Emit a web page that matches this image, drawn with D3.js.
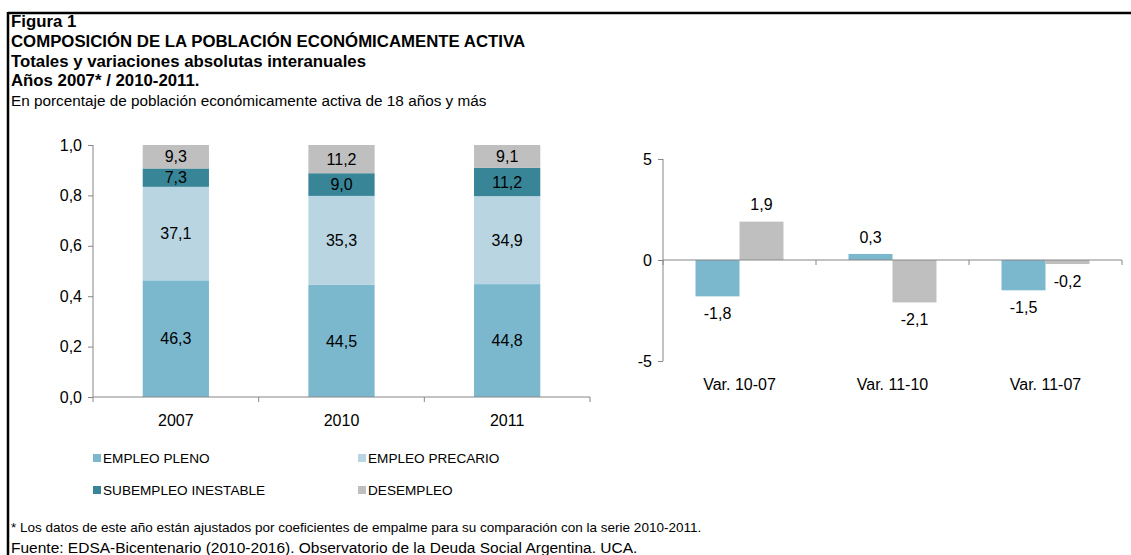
<!DOCTYPE html>
<html lang="es">
<head>
    <meta charset="UTF-8">
    <title>Figura 1 - Composición de la PEA</title>
    <script src="https://cdn.jsdelivr.net/npm/d3@7"></script>
    <style>
        body { margin: 0; background: #fff; }
        svg { display: block; font-family: "Liberation Sans", Arial, sans-serif; }
        .axis path, .axis line { stroke: #868686; }
        .axis text { font-size: 16px; fill: #000; }
    </style>
</head>
<body>
    <svg id="chart" width="1131" height="555"></svg>
    <script>
        // Datos del gráfico izquierdo (porcentajes por año)
        const years = ['2007', '2010', '2011'];
        const empleoPleno = [46.3, 44.5, 44.8];
        const empleoPrecario = [37.1, 35.3, 34.9];
        const subempleo = [7.3, 9.0, 11.2];
        const desempleo = [9.3, 11.2, 9.1];
        const leftTicks = [0, 0.2, 0.4, 0.6, 0.8, 1.0];

        // Datos del gráfico derecho (variaciones absolutas)
        const varCats = ['Var. 10-07', 'Var. 11-10', 'Var. 11-07'];
        const varPleno = [-1.8, 0.3, -1.5];
        const varDesempleo = [1.9, -2.1, -0.2];
        const rightTicks = [-5, 0, 5];

        const seriesNames = ['EMPLEO PLENO', 'EMPLEO PRECARIO', 'SUBEMPLEO INESTABLE', 'DESEMPLEO'];
        const COLORS = {
            'EMPLEO PLENO': '#7BB8CE',
            'EMPLEO PRECARIO': '#B8D5E1',
            'SUBEMPLEO INESTABLE': '#388597',
            'DESEMPLEO': '#BFBFBF'
        };

        // formato con coma decimal y guion como signo menos
        const es = d3.formatLocale({ decimal: ',', thousands: '.', grouping: [3], currency: ['$', ''], minus: '-' });
        const comma = es.format('.1f');
        const entero = es.format('d');

        const svg = d3.select('#chart');

        // Marco
        svg.append('line').attr('x1', 8).attr('x2', 1131).attr('y1', 13).attr('y2', 13)
            .attr('stroke', '#000').attr('stroke-width', 2.5);
        svg.append('line').attr('x1', 8).attr('x2', 8).attr('y1', 12).attr('y2', 555)
            .attr('stroke', '#000').attr('stroke-width', 2.5);

        // Títulos
        const titles = [
            { t: 'Figura 1', b: true },
            { t: 'COMPOSICIÓN DE LA POBLACIÓN ECONÓMICAMENTE ACTIVA', b: true },
            { t: 'Totales y variaciones absolutas interanuales', b: true },
            { t: 'Años 2007* / 2010-2011.', b: true },
            { t: 'En porcentaje de población económicamente activa de 18 años y más', b: false }
        ];
        titles.forEach((d, i) => {
            svg.append('text')
                .attr('x', 11)
                .attr('y', 27 + i * 19.8)
                .attr('font-size', d.b ? 16.8 : 15.3)
                .attr('font-weight', d.b ? 'bold' : 'normal')
                .text(d.t);
        });

        // ---------- Gráfico izquierdo: barras apiladas ----------
        const stackData = years.map((y, i) => ({
            year: y,
            'EMPLEO PLENO': empleoPleno[i] / 100,
            'EMPLEO PRECARIO': empleoPrecario[i] / 100,
            'SUBEMPLEO INESTABLE': subempleo[i] / 100,
            'DESEMPLEO': desempleo[i] / 100
        }));
        const stacked = d3.stack().keys(seriesNames)(stackData);

        const x1 = d3.scaleBand().domain(years).range([93, 590]).paddingInner(0.6).paddingOuter(0.3);
        const y1 = d3.scaleLinear().domain([0, 1]).range([397, 145]);

        const left = svg.append('g');

        stacked.forEach(layer => {
            left.selectAll(null)
                .data(layer)
                .enter()
                .append('rect')
                .attr('x', d => x1(d.data.year))
                .attr('y', d => y1(d[1]))
                .attr('width', x1.bandwidth())
                .attr('height', d => y1(d[0]) - y1(d[1]))
                .attr('fill', COLORS[layer.key]);

            left.selectAll(null)
                .data(layer)
                .enter()
                .append('text')
                .attr('x', d => x1(d.data.year) + x1.bandwidth() / 2)
                .attr('y', d => (y1(d[0]) + y1(d[1])) / 2)
                .attr('dy', '0.35em')
                .attr('text-anchor', 'middle')
                .attr('font-size', 16)
                .text(d => comma((d[1] - d[0]) * 100));
        });

        left.append('g')
            .attr('class', 'axis')
            .attr('transform', 'translate(93,0)')
            .call(d3.axisLeft(y1).tickValues(leftTicks).tickSize(5).tickPadding(6).tickFormat(comma))
            .call(g => g.select('.domain').attr('d', `M0,${y1(1)}V${y1(0)}`));

        left.append('g')
            .attr('class', 'axis')
            .attr('transform', `translate(0,${y1(0)})`)
            .call(d3.axisBottom(x1).tickSize(0).tickPadding(18))
            .call(g => g.select('.domain').attr('d', `M${x1.range()[0]},0H${x1.range()[1]}`));

        // marcas entre categorías
        const step1 = x1.step();
        left.selectAll(null)
            .data(d3.range(years.length + 1))
            .enter()
            .append('line')
            .attr('x1', i => x1.range()[0] + i * step1)
            .attr('x2', i => x1.range()[0] + i * step1)
            .attr('y1', y1(0))
            .attr('y2', y1(0) + 5)
            .attr('stroke', '#868686');

        // Leyenda
        const legend = svg.append('g');
        seriesNames.forEach((name, i) => {
            const col = i % 2, row = Math.floor(i / 2);
            const lx = 93 + col * 265, ly = 458 + row * 32;
            legend.append('rect')
                .attr('x', lx).attr('y', ly - 4).attr('width', 8).attr('height', 8)
                .attr('fill', COLORS[name]);
            legend.append('text')
                .attr('x', lx + 10).attr('y', ly).attr('dy', '0.35em')
                .attr('font-size', 13.6)
                .text(name);
        });

        // ---------- Gráfico derecho: variaciones ----------
        const x2 = d3.scaleBand().domain(varCats).range([663, 1122]).paddingInner(0.425).paddingOuter(0.2125);
        const xs = d3.scaleBand().domain(['EMPLEO PLENO', 'DESEMPLEO']).range([0, x2.bandwidth()]);
        const y2 = d3.scaleLinear().domain([-5, 5]).range([361, 159]);

        const varData = [];
        varCats.forEach((c, i) => {
            varData.push({ cat: c, key: 'EMPLEO PLENO', v: varPleno[i] });
            varData.push({ cat: c, key: 'DESEMPLEO', v: varDesempleo[i] });
        });

        const right = svg.append('g');

        right.selectAll(null)
            .data(varData)
            .enter()
            .append('rect')
            .attr('x', d => x2(d.cat) + xs(d.key))
            .attr('y', d => y2(Math.max(0, d.v)))
            .attr('width', xs.bandwidth())
            .attr('height', d => Math.abs(y2(d.v) - y2(0)))
            .attr('fill', d => COLORS[d.key]);

        right.selectAll(null)
            .data(varData)
            .enter()
            .append('text')
            .attr('x', d => x2(d.cat) + xs(d.key) + xs.bandwidth() / 2)
            .attr('y', d => d.v >= 0 ? y2(d.v) - 17 : y2(d.v) + 17)
            .attr('dy', '0.35em')
            .attr('text-anchor', 'middle')
            .attr('font-size', 16)
            .text(d => comma(d.v));

        right.append('g')
            .attr('class', 'axis')
            .attr('transform', 'translate(663,0)')
            .call(d3.axisLeft(y2).tickValues(rightTicks).tickSize(5).tickPadding(6).tickFormat(entero))
            .call(g => g.select('.domain').attr('d', `M0,${y2(5)}V${y2(-5)}`));

        right.append('g')
            .attr('class', 'axis')
            .attr('transform', `translate(0,${y2(0)})`)
            .call(d3.axisBottom(x2).tickSize(0).tickPadding(y2(-5) - y2(0) + 18))
            .call(g => g.select('.domain').attr('d', `M${x2.range()[0]},0H${x2.range()[1]}`));

        const step2 = x2.step();
        right.selectAll(null)
            .data(d3.range(varCats.length + 1))
            .enter()
            .append('line')
            .attr('x1', i => x2.range()[0] + i * step2)
            .attr('x2', i => x2.range()[0] + i * step2)
            .attr('y1', y2(0))
            .attr('y2', y2(0) + 5)
            .attr('stroke', '#868686');

        // Notas al pie
        svg.append('text').attr('x', 11).attr('y', 532).attr('font-size', 13.5)
            .text('* Los datos de este año están ajustados por coeficientes de empalme para su comparación con la serie 2010-2011.');
        svg.append('text').attr('x', 11).attr('y', 553).attr('font-size', 15.5)
            .text('Fuente: EDSA-Bicentenario (2010-2016). Observatorio de la Deuda Social Argentina. UCA.');
    </script>
</body>
</html>
